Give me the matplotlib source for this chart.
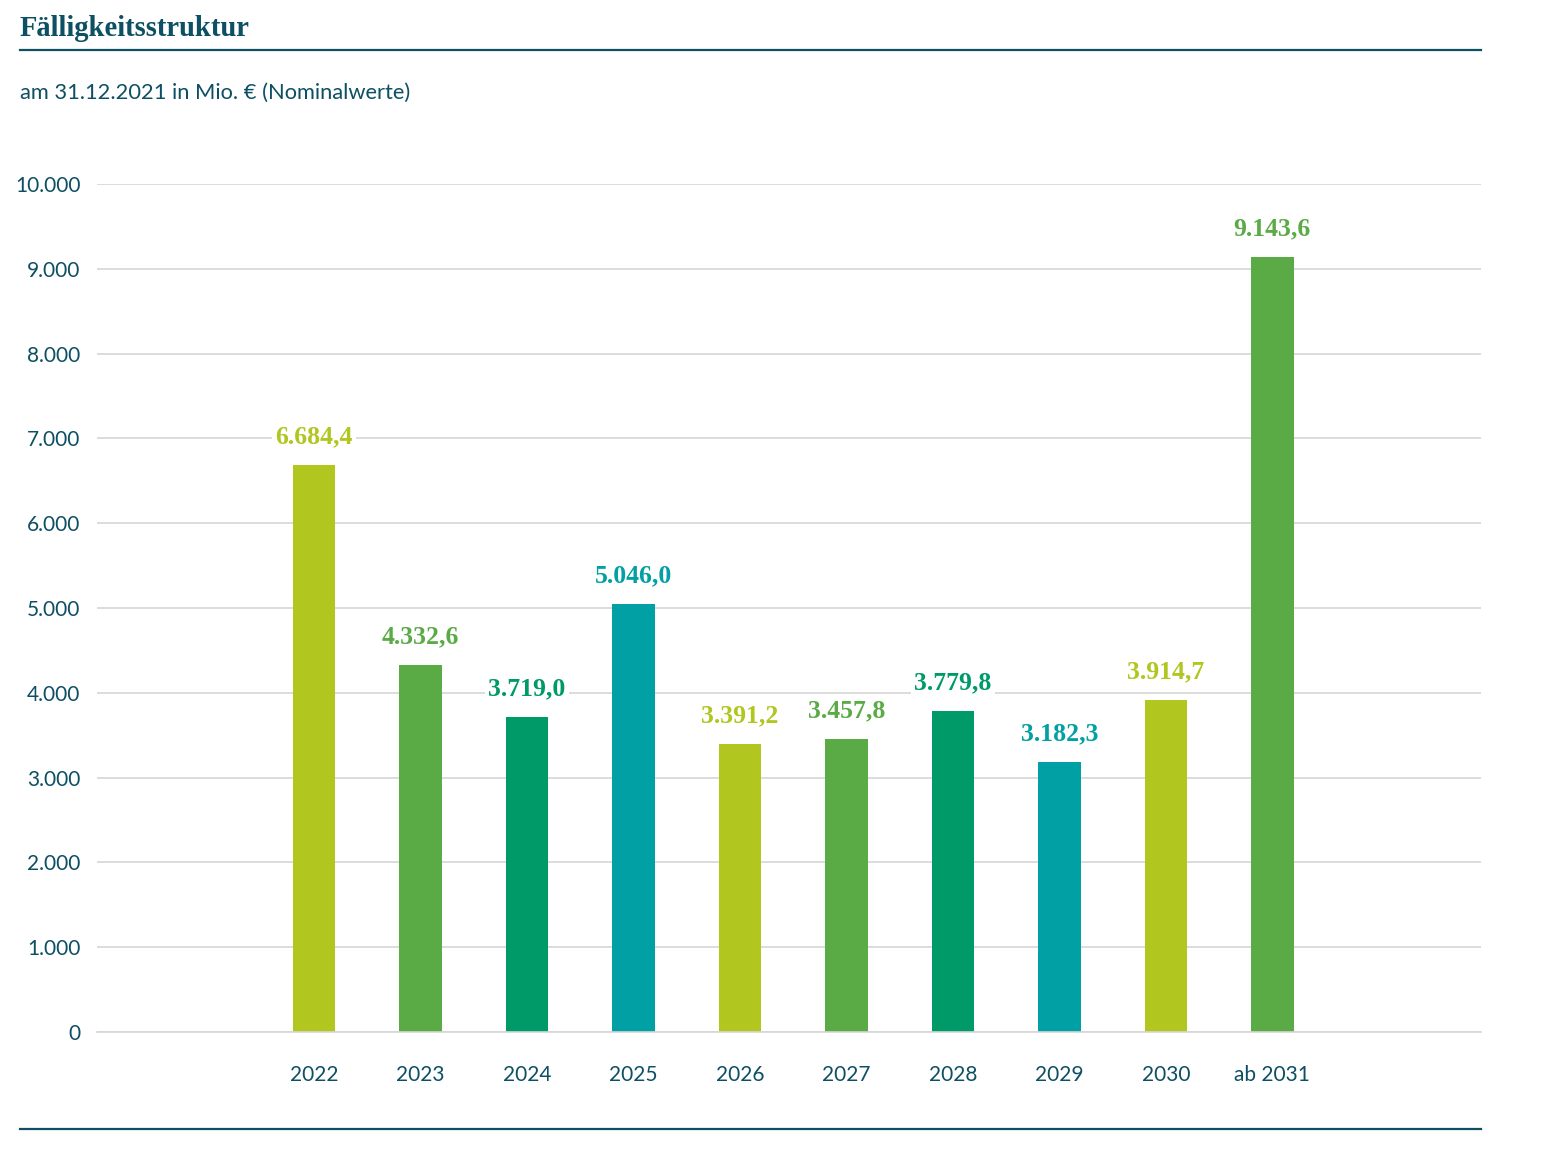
import numpy as np
import matplotlib.pyplot as plt

categories = ['2022', '2023', '2024', '2025', '2026', '2027', '2028', '2029', '2030', 'ab 2031']
values = [6684.4, 4332.6, 3719.0, 5046.0, 3391.2, 3457.8, 3779.8, 3182.3, 3914.7, 9143.6]
labels = ['6.684,4', '4.332,6', '3.719,0', '5.046,0', '3.391,2', '3.457,8', '3.779,8', '3.182,3', '3.914,7', '9.143,6']
yticks = [0, 1000, 2000, 3000, 4000, 5000, 6000, 7000, 8000, 9000, 10000]
ytick_labels = ['0', '1.000', '2.000', '3.000', '4.000', '5.000', '6.000', '7.000', '8.000', '9.000', '10.000']

lime = '#b1c61f'
green = '#5aab46'
dkgreen = '#009a68'
teal = '#00a0a4'
colors = [lime, green, dkgreen, teal, lime, green, dkgreen, teal, lime, green]

navy = '#0d4f63'
W, H = 1543, 1168
fig = plt.figure(figsize=(W / 100, H / 100), dpi=100)

ax = fig.add_axes([97 / W, 1 - 1032 / H, (1481 - 97) / W, (1032 - 184) / H])
x = np.arange(len(categories))
ax.bar(x, values, width=0.4, color=colors, zorder=2)
ax.set_xlim(-2.04, 10.96)
ax.set_ylim(0, 10000)

ax.set_yticks(yticks)
ax.set_yticklabels(ytick_labels, fontsize=15, color=navy, family='Lato')
ax.set_xticks(x)
ax.set_xticklabels(categories, fontsize=15, color=navy, family='Lato')
ax.tick_params(axis='y', length=0, pad=12)
ax.tick_params(axis='x', length=0, pad=24)
ax.grid(axis='y', color='#d6d6d6', linewidth=1.2, zorder=0)
for s in ['top', 'right', 'left']:
    ax.spines[s].set_visible(False)
ax.spines['bottom'].set_color('#d6d6d6')
ax.spines['bottom'].set_linewidth(1.2)

for xi, v, lab, c in zip(x, values, labels, colors):
    ax.annotate(lab, (xi, v), xytext=(0, 12), textcoords='offset points',
                ha='center', va='bottom', fontsize=18.5, fontweight='bold',
                family='Liberation Serif', color=c, zorder=3,
                bbox=dict(boxstyle='square,pad=0.12', fc='white', ec='none'))

fig.text(20 / W, 1 - 28 / H, 'Fälligkeitsstruktur', fontsize=20.6, fontweight='bold',
         family='Liberation Serif', color=navy, va='center', ha='left')
fig.add_artist(plt.Line2D([20 / W, 1481 / W], [1 - 50 / H, 1 - 50 / H], color=navy, linewidth=1.6))
fig.text(20 / W, 1 - 93 / H, 'am 31.12.2021 in Mio. € (Nominalwerte)', fontsize=15.75,
         family='Lato', color=navy, va='center', ha='left')
fig.add_artist(plt.Line2D([20 / W, 1481 / W], [1 - 1129 / H, 1 - 1129 / H], color=navy, linewidth=1.6))

fig.savefig('out.png', dpi=100)
